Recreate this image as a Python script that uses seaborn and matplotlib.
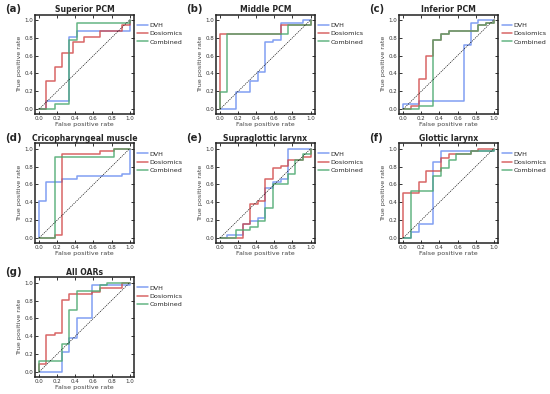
import matplotlib
matplotlib.use("Agg")
import matplotlib.pyplot as plt
import seaborn as sns
import pandas as pd

# ROC corner points (steps-post): fpr, tpr for each organ and model
sup_dvh_fpr = [0, 0.08, 0.33, 0.42, 1.0]
sup_dvh_tpr = [0, 0.09, 0.81, 0.875, 1.0]
sup_dos_fpr = [0, 0.08, 0.17, 0.25, 0.375, 0.5, 0.67, 0.92, 1.0]
sup_dos_tpr = [0, 0.31, 0.47, 0.625, 0.75, 0.81, 0.875, 0.94, 1.0]
sup_com_fpr = [0, 0.17, 0.33, 0.42, 1.0]
sup_com_tpr = [0, 0.06, 0.78, 0.97, 1.0]

mid_dvh_fpr = [0, 0.17, 0.33, 0.42, 0.5, 0.58, 0.67, 0.92, 1.0]
mid_dvh_tpr = [0, 0.19, 0.31, 0.41, 0.75, 0.78, 0.97, 1.0, 1.0]
mid_dos_fpr = [0, 0, 0.67, 1.0]
mid_dos_tpr = [0, 0.84, 0.94, 1.0]
mid_com_fpr = [0, 0, 0.08, 0.75, 1.0]
mid_com_tpr = [0, 0.19, 0.84, 0.94, 1.0]

inf_dvh_fpr = [0, 0, 0.17, 0.67, 0.75, 0.83, 1.0]
inf_dvh_tpr = [0, 0.06, 0.09, 0.72, 0.97, 1.0, 1.0]
inf_dos_fpr = [0, 0.08, 0.17, 0.25, 0.33, 0.42, 0.5, 0.83, 0.92, 1.0]
inf_dos_tpr = [0, 0.03, 0.34, 0.59, 0.78, 0.84, 0.875, 0.94, 0.97, 1.0]
inf_com_fpr = [0, 0.17, 0.33, 0.42, 0.5, 0.83, 0.92, 1.0]
inf_com_tpr = [0, 0.03, 0.78, 0.84, 0.875, 0.94, 0.97, 1.0]

cri_dvh_fpr = [0, 0, 0.08, 0.25, 0.42, 0.92, 1.0]
cri_dvh_tpr = [0, 0.41, 0.625, 0.66, 0.69, 0.72, 1.0]
cri_dos_fpr = [0, 0.17, 0.25, 0.67, 0.83, 1.0]
cri_dos_tpr = [0, 0.03, 0.94, 0.97, 1.0, 1.0]
cri_com_fpr = [0, 0.17, 0.83, 1.0]
cri_com_tpr = [0, 0.91, 1.0, 1.0]

sgl_dvh_fpr = [0, 0.08, 0.25, 0.33, 0.42, 0.5, 0.58, 0.67, 0.75, 1.0]
sgl_dvh_tpr = [0, 0.03, 0.16, 0.19, 0.22, 0.56, 0.625, 0.66, 1.0, 1.0]
sgl_dos_fpr = [0, 0.25, 0.33, 0.42, 0.5, 0.58, 0.67, 0.75, 0.92, 1.0]
sgl_dos_tpr = [0, 0.16, 0.375, 0.41, 0.66, 0.78, 0.81, 0.875, 0.91, 1.0]
sgl_com_fpr = [0, 0.17, 0.33, 0.42, 0.5, 0.58, 0.75, 0.83, 0.92, 1.0]
sgl_com_tpr = [0, 0.09, 0.12, 0.19, 0.34, 0.6, 0.72, 0.875, 0.94, 1.0]

glo_dvh_fpr = [0, 0.08, 0.17, 0.33, 0.42, 1.0]
glo_dvh_tpr = [0, 0.06, 0.16, 0.85, 0.97, 1.0]
glo_dos_fpr = [0, 0, 0.17, 0.25, 0.42, 0.5, 0.75, 0.83, 1.0]
glo_dos_tpr = [0, 0.5, 0.625, 0.75, 0.9, 0.94, 0.97, 1.0, 1.0]
glo_com_fpr = [0, 0.08, 0.33, 0.42, 0.5, 0.58, 0.75, 1.0]
glo_com_tpr = [0, 0.53, 0.69, 0.78, 0.875, 0.94, 0.97, 1.0]

all_dvh_fpr = [0, 0.25, 0.33, 0.42, 0.58, 1.0]
all_dvh_tpr = [0, 0.22, 0.375, 0.6, 0.97, 1.0]
all_dos_fpr = [0, 0, 0.08, 0.17, 0.25, 0.33, 0.58, 0.67, 0.92, 1.0]
all_dos_tpr = [0, 0.09, 0.41, 0.44, 0.81, 0.875, 0.9, 0.94, 1.0, 1.0]
all_com_fpr = [0, 0, 0.25, 0.33, 0.42, 0.67, 0.75, 1.0]
all_com_tpr = [0, 0.125, 0.31, 0.69, 0.91, 0.97, 1.0, 1.0]

panel_letters = ["(a)", "(b)", "(c)", "(d)", "(e)", "(f)", "(g)"]
panel_titles = ["Superior PCM", "Middle PCM", "Inferior PCM",
                "Cricopharyngeal muscle", "Supraglottic larynx",
                "Glottic larynx", "All OARs"]
models = ["DVH", "Dosiomics", "Combined"]
colors = {"DVH": "#6b8ff0", "Dosiomics": "#d24b4b", "Combined": "#4aa86e"}

curves = [
    [(sup_dvh_fpr, sup_dvh_tpr), (sup_dos_fpr, sup_dos_tpr), (sup_com_fpr, sup_com_tpr)],
    [(mid_dvh_fpr, mid_dvh_tpr), (mid_dos_fpr, mid_dos_tpr), (mid_com_fpr, mid_com_tpr)],
    [(inf_dvh_fpr, inf_dvh_tpr), (inf_dos_fpr, inf_dos_tpr), (inf_com_fpr, inf_com_tpr)],
    [(cri_dvh_fpr, cri_dvh_tpr), (cri_dos_fpr, cri_dos_tpr), (cri_com_fpr, cri_com_tpr)],
    [(sgl_dvh_fpr, sgl_dvh_tpr), (sgl_dos_fpr, sgl_dos_tpr), (sgl_com_fpr, sgl_com_tpr)],
    [(glo_dvh_fpr, glo_dvh_tpr), (glo_dos_fpr, glo_dos_tpr), (glo_com_fpr, glo_com_tpr)],
    [(all_dvh_fpr, all_dvh_tpr), (all_dos_fpr, all_dos_tpr), (all_com_fpr, all_com_tpr)],
]

sns.set_style("ticks")
plt.rcParams["font.family"] = ["DejaVu Sans"]

fig = plt.figure(figsize=(5.5, 3.94), dpi=100)

# axes positions in figure fractions (left, bottom, width, height)
col_left = [0.064, 0.393, 0.726]
row_bottom = [0.711, 0.384, 0.044]
ax_w, ax_h = 0.179, 0.252

for i, (letter, title) in enumerate(zip(panel_letters, panel_titles)):
    r, c = divmod(i, 3)
    ax = fig.add_axes([col_left[c], row_bottom[r], ax_w, ax_h])
    for model, (fpr, tpr) in zip(models, curves[i]):
        df = pd.DataFrame({"fpr": fpr, "tpr": tpr})
        sns.lineplot(data=df, x="fpr", y="tpr", ax=ax, sort=False, estimator=None,
                     drawstyle="steps-post", color=colors[model], lw=1.1,
                     alpha=0.85, label=model)
    ax.plot([0, 1], [0, 1], ls="--", color="black", lw=0.45, dashes=(2, 1.5))
    ax.set_xlim(-0.045, 1.045)
    ax.set_ylim(-0.055, 1.06)
    ax.set_xticks([0, 0.2, 0.4, 0.6, 0.8, 1.0])
    ax.set_yticks([0, 0.2, 0.4, 0.6, 0.8, 1.0])
    ax.tick_params(direction="in", top=True, right=True, length=2.2, width=0.7,
                   labelsize=4.0, pad=1.5, colors="#333333")
    for s in ax.spines.values():
        s.set_linewidth(1.1)
        s.set_color("#222222")
    ax.set_xlabel("False positive rate", fontsize=4.6, labelpad=0.8, color="#444444")
    ax.set_ylabel("True positive rate", fontsize=4.6, labelpad=1.5, color="#444444")
    ax.set_title(title, fontsize=5.6, fontweight="bold", pad=2.0)
    ax.legend(loc="upper left", bbox_to_anchor=(1.0, 0.96), frameon=False,
              fontsize=4.6, handlelength=1.7, handletextpad=0.2,
              borderaxespad=0.2, labelspacing=0.45)
    fig.text(col_left[c] - 0.055, row_bottom[r] + ax_h + 0.006, letter,
             fontsize=7.3, fontweight="bold", ha="left", va="baseline")

fig.savefig("out.png", dpi=100)
